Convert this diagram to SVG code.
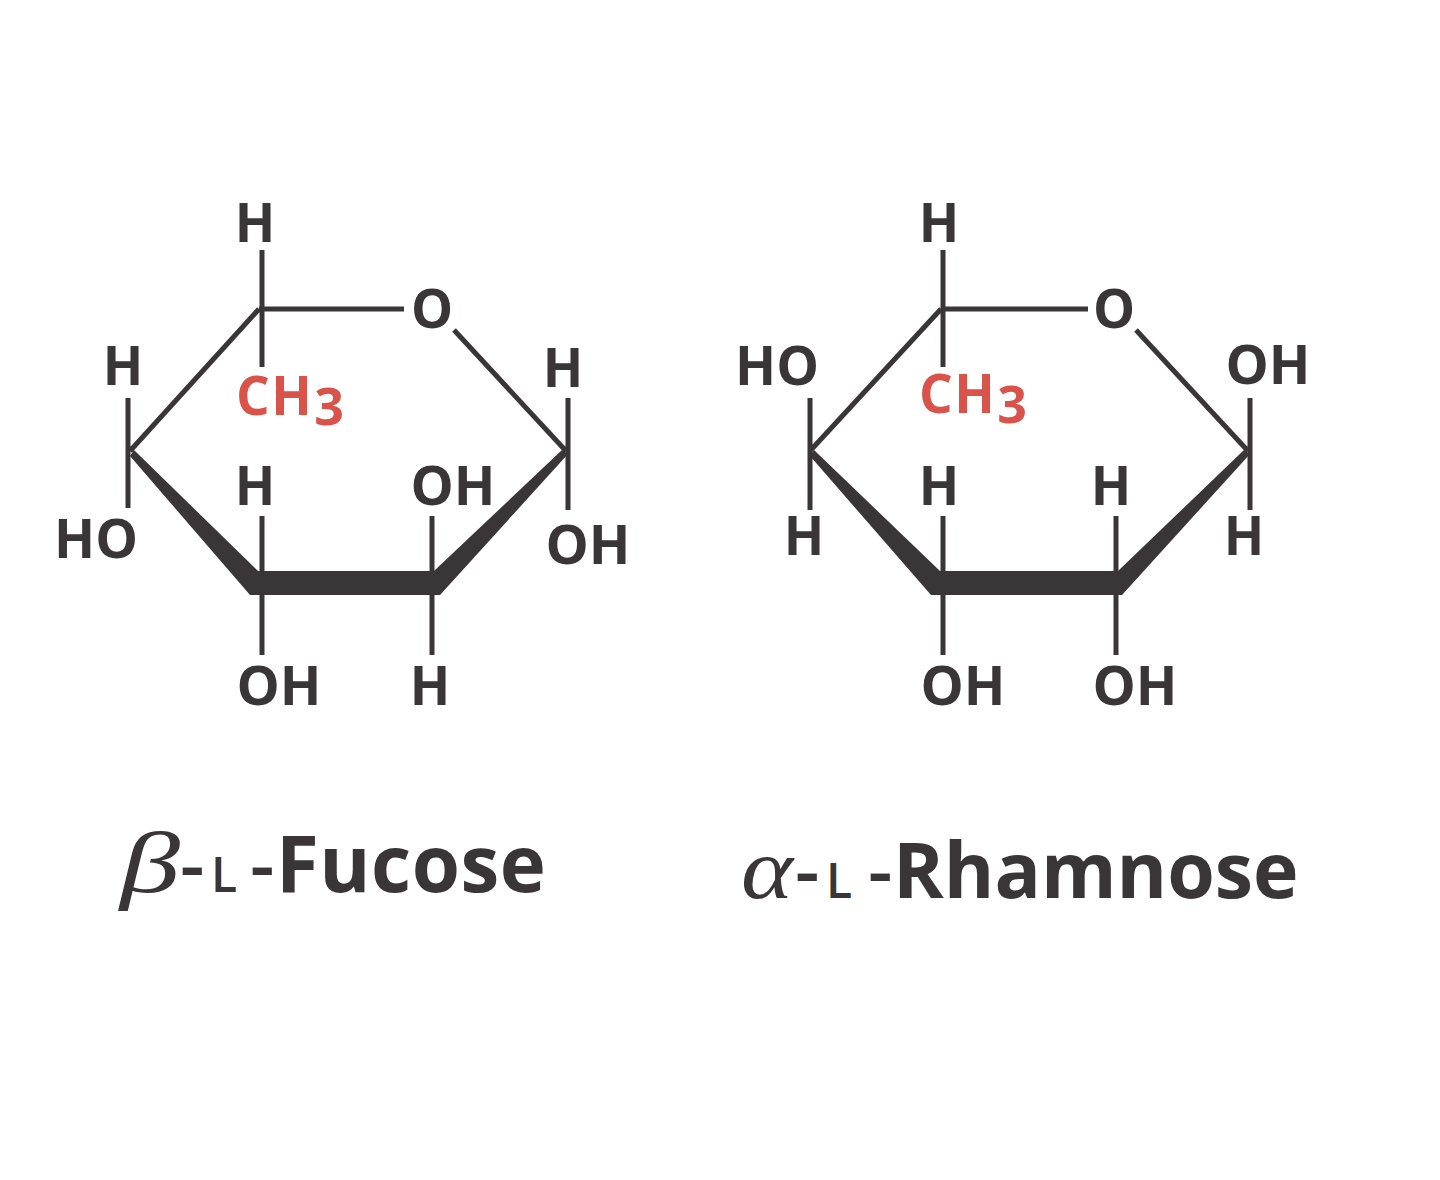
<svg xmlns="http://www.w3.org/2000/svg" width="1440" height="1180" viewBox="0 0 1440 1180">
<style>
.b{stroke:#3a3638;stroke-width:5;fill:none;stroke-linecap:butt;stroke-linejoin:miter}
.w{fill:#3a3638;stroke:none}
text{font-family:"Open Sans","Noto Sans",sans-serif;font-weight:700;font-size:53px;fill:#3a3638}
.c{fill:#d9534a;text-anchor:start;letter-spacing:1.5px}
.m{text-anchor:middle}
.t{font-size:78px}
.s{font-family:"Liberation Serif",serif;font-style:italic;font-weight:400;font-size:86px}
.d{font-size:76px;font-weight:600}
.sc{font-size:48px;font-weight:600}
.sub{font-size:52px}
</style>
<rect width="1440" height="1180" fill="#fff"/>
<g id="connectors">
<g id="ring-fucose">
<path class="b" d="M262 250V367M259 309H404M259 309L130 451M454 330L566 451M128 398V508M568 398V510M262 516V575M432 516V575M262 590V655M432 590V655"/>
<path class="w" d="M130 456L134 450L258 571H434L562 450L568 454L440 595H250Z"/>
</g>
<g id="ring-rhamnose">
<path class="b" d="M943 250V367M941 309H1088M941 309L810 451M1136 330L1248 451M810 398V510M1250 398V510M943 516V575M1116 516V575M943 590V655M1116 590V655"/>
<path class="w" d="M810 456L814 450L940 571H1118L1244 450L1250 454L1122 595H931Z"/>
</g>
</g>
<g id="fucose">
<text class="m" x="255" y="242">H</text>
<text class="m" x="432" y="328">O</text>
<text class="m" x="123" y="385">H</text>
<text class="m" x="563" y="387">H</text>
<text class="c" x="236" y="415">CH<tspan class="sub" dy="10" dx="1">3</tspan></text>
<text class="m" x="255" y="505">H</text>
<text class="m" x="453" y="505" textLength="85" lengthAdjust="spacingAndGlyphs">OH</text>
<text class="m" x="96" y="558" textLength="84" lengthAdjust="spacingAndGlyphs">HO</text>
<text class="m" x="588" y="564" textLength="85" lengthAdjust="spacingAndGlyphs">OH</text>
<text class="m" x="279" y="705" textLength="85" lengthAdjust="spacingAndGlyphs">OH</text>
<text class="m" x="430" y="705">H</text>
<text x="120" y="892" class="s" textLength="60" lengthAdjust="spacingAndGlyphs">β</text>
<text x="180" y="892" class="d">-</text>
<text x="211" y="892" class="sc">L</text>
<text x="250" y="892" class="d">-</text>
<text x="276" y="892" class="t" letter-spacing="0.5">Fucose</text>
</g>
<g id="rhamnose">
<text class="m" x="939" y="242">H</text>
<text class="m" x="1114" y="328">O</text>
<text class="m" x="777" y="385" textLength="84" lengthAdjust="spacingAndGlyphs">HO</text>
<text class="m" x="1268" y="384" textLength="85" lengthAdjust="spacingAndGlyphs">OH</text>
<text class="c" x="919" y="413">CH<tspan class="sub" dy="10" dx="1">3</tspan></text>
<text class="m" x="939" y="505">H</text>
<text class="m" x="1111" y="505">H</text>
<text class="m" x="804" y="555">H</text>
<text class="m" x="1244" y="555">H</text>
<text class="m" x="963" y="705" textLength="85" lengthAdjust="spacingAndGlyphs">OH</text>
<text class="m" x="1135" y="705" textLength="85" lengthAdjust="spacingAndGlyphs">OH</text>
<text x="741" y="898" class="s" textLength="52" lengthAdjust="spacingAndGlyphs">α</text>
<text x="795" y="898" class="d">-</text>
<text x="826" y="898" class="sc">L</text>
<text x="868" y="898" class="d">-</text>
<text x="893" y="898" class="t" style="font-size:77px">Rhamnose</text>
</g>
</svg>
